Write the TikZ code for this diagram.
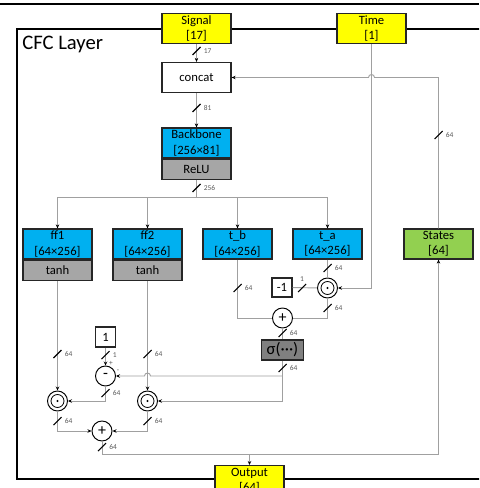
\documentclass[tikz,border=0pt]{standalone}
\usepackage{fontspec}
\setmainfont{Carlito}
\usetikzlibrary{arrows.meta,calc}

\definecolor{ioyellow}{HTML}{FFFF00}
\definecolor{boxblue}{HTML}{00B0F0}
\definecolor{boxgray}{HTML}{A6A6A6}
\definecolor{sigmagray}{HTML}{808080}
\definecolor{statesgreen}{HTML}{92D050}
\definecolor{wiregray}{HTML}{A0A0A0}

\tikzset{
  frame/.style={line width=1.6pt,draw=black},
  block/.style={draw=black!85,line width=0.9pt,minimum width=51.75pt,minimum height=22.5pt,
    inner sep=0pt,align=center,font=\fontsize{9.5}{11.5}\selectfont},
  io/.style={block,fill=ioyellow},
  layer/.style={block,fill=boxblue},
  act/.style={block,fill=boxgray,minimum height=15pt},
  opnode/.style={circle,draw=black,line width=0.7pt,fill=white,minimum size=15pt,inner sep=0pt,
    font=\fontsize{12}{12}\selectfont},
  wire/.style={draw=wiregray,line width=0.7pt},
  busline/.style={line width=0.8pt,black},
  buslabel/.style={font=\fontsize{5.6}{6.5}\selectfont,text=black!65,inner sep=0pt},
  >={Stealth[length=3pt,width=2.6pt,color=black]},
}

\newcommand\busmark[2]{%
  \draw[busline] ($#1+(-4,4)$) -- ($#1+(4,-4)$);
  \node[buslabel,anchor=west] at ($#1+(7,0)$) {#2};}
\newcommand\hadamard[2]{%
  \node[opnode] (#1) at (#2) {};
  \draw[line width=0.6pt] (#1.center) circle[radius=6.5];
  \fill (#1.center) circle[radius=1.1];}

\begin{document}
\begin{tikzpicture}[x=0.75pt,y=-0.75pt]
\useasboundingbox (0,0) rectangle (479,488);
\clip (0,0) rectangle (479,488);

% layer frame
\draw[line width=0.9pt] (0,4) -- (479,4);
\draw[frame] (520,29) -- (17,29) -- (17,479) -- (520,479);
\node[anchor=base west,inner sep=0pt,font=\fontsize{15.5}{18}\selectfont] (title) at (22,50) {CFC Layer};

% blocks
\node[io] (signal) at (196.5,28.5) {Signal\\{}[17]};
\node[io] (time) at (371.5,28.5) {Time\\{}[1]};
\node[block,fill=white] (concat) at (196.5,77.5) {concat};
\node[layer] (backbone) at (196.5,143) {Backbone\\{}[256×81]};
\node[act,anchor=north] (relu) at (backbone.south) {ReLU};
\node[layer] (ff1) at (57.5,244) {ff1\\{}[64×256]};
\node[act,anchor=north] (tanh1) at (ff1.south) {tanh};
\node[layer] (ff2) at (147.5,244) {ff2\\{}[64×256]};
\node[act,anchor=north] (tanh2) at (ff2.south) {tanh};
\node[layer] (tb) at (237.5,244) {t\_b\\{}[64×256]};
\node[layer] (ta) at (327.5,244) {t\_a\\{}[64×256]};
\node[block,fill=statesgreen] (states) at (438.5,244) {States\\{}[64]};

% operations
\hadamard{proda}{327.5,288}
\node[block,minimum width=15pt,minimum height=14.25pt] (negone) at (282,287.5) {-1};
\node[opnode] (adda) at (282.5,318) {+};
\node[block,fill=sigmagray,minimum width=32pt,minimum height=15pt,font=\fontsize{12.5}{14}\selectfont]
  (sigma) at (282.5,350) {σ(···)};
\node[block,minimum width=15pt,minimum height=15pt] (one) at (105.5,337) {1};
\node[opnode] (sub) at (105.5,376) {-};
\hadamard{prod1}{57.5,401}
\hadamard{prod2}{147.5,401}
\node[opnode] (addb) at (102,431) {+};
\node[io,anchor=north] (output) at (249.5,465) {Output\\{}[64]};

% wires
\draw[wire,->] (signal) -- (concat);
\draw[wire,->] (concat) -- (backbone);
\draw[wire] (relu) -- (196.5,197) coordinate (split);
\foreach \n in {ff1,ff2,tb,ta}
  \draw[wire,->] (split) -| (\n.north);
\coordinate (hopa) at (time.south |- concat.east);
\draw[wire,->] (states.north) |- ($(hopa)+(3,0)$) arc[start angle=0,end angle=-180,radius=3] -- (concat.east);
\draw[wire,->] (time.south) |- (proda.east);
\draw[wire] (ta) -- (proda);
\draw[wire] (negone) -- (proda);
\draw[wire] (proda) |- (adda);
\draw[wire] (tb) |- (adda);
\draw[wire] (adda) -- (sigma);
\draw[wire,->] (sigma) |- (prod2);
\coordinate (hopb) at (tanh2.south |- sub.east);
\draw[wire,->] (sigma.south |- sub.east) -- ($(hopb)+(3,0)$) arc[start angle=0,end angle=-180,radius=3] -- (sub.east);
\draw[wire,->] (tanh1) -- (prod1);
\draw[wire,->] (tanh2) -- (prod2);
\draw[wire,->] (one) -- (sub);
\draw[wire,->] (sub) |- (prod1);
\draw[wire,->] (prod1) |- (addb);
\draw[wire,->] (prod2) |- (addb);
\coordinate (fb) at (102,454);
\draw[wire,->] (addb) -- (fb) -| (states.south);
\draw[wire,->] (output.north |- fb) -- (output.north);

% bus widths
\busmark{(196.5,51)}{17}
\busmark{(196.5,108)}{81}
\busmark{(196.5,188)}{256}
\busmark{(438.5,135)}{64}
\busmark{(327.5,268)}{64}
\busmark{(327.5,308)}{64}
\busmark{(302,288)}{}
\node[buslabel,anchor=south] at (302,282) {1};
\busmark{(237.5,288)}{64}
\busmark{(282.5,333)}{64}
\busmark{(282.5,368)}{64}
\busmark{(57.5,354)}{64}
\busmark{(147.5,354)}{64}
\busmark{(105.5,355)}{1}
\busmark{(105.5,393)}{64}
\busmark{(57.5,421)}{64}
\busmark{(147.5,421)}{64}
\busmark{(102,447)}{64}
\node[buslabel] at (111,363) {+};
\node[buslabel] at (118,371) {-};
\end{tikzpicture}
\end{document}
